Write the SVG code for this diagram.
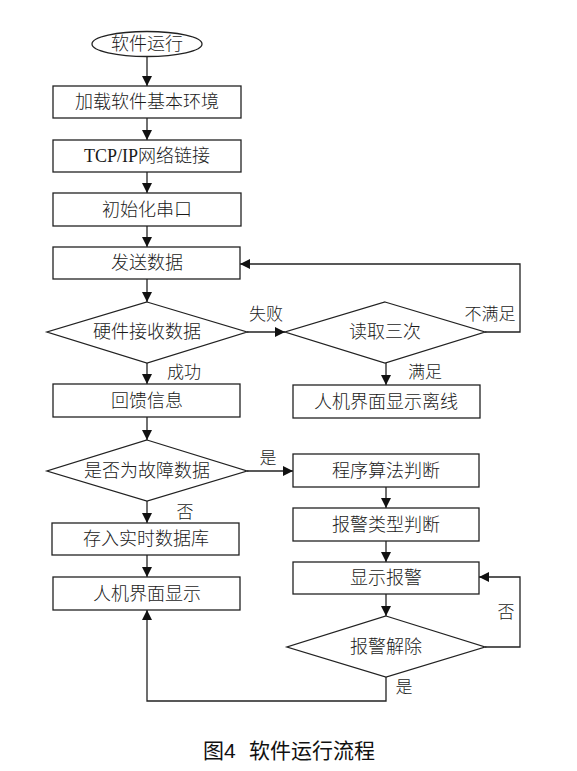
<svg xmlns="http://www.w3.org/2000/svg" width="577" height="771" viewBox="0 0 577 771">
<style>
.n{fill:#fff;stroke:#222;stroke-width:1.3}
.t{font-family:"Liberation Serif","Noto Sans CJK SC",serif;font-size:18px;font-weight:300;fill:#1a1a1a;text-anchor:middle;dominant-baseline:central}
.l{font-family:"Liberation Serif","Noto Sans CJK SC",serif;font-size:17px;font-weight:300;fill:#1a1a1a;text-anchor:middle;dominant-baseline:central}
.c{fill:none;stroke:#222;stroke-width:1.3}
.cap{font-family:"Liberation Sans","Noto Sans CJK SC",sans-serif;font-size:21px;font-weight:400;fill:#111;dominant-baseline:central}
</style>
<defs>
<marker id="a" viewBox="0 0 10 10" refX="10" refY="5" markerWidth="10" markerHeight="10" markerUnits="userSpaceOnUse" orient="auto">
<path d="M0,0 L10,5 L0,10 Z" fill="#111"/>
</marker>
</defs>
<rect width="577" height="771" fill="#fff"/>
<g id="connectors">
<path class="c" d="M147,56 V86" marker-end="url(#a)"/>
<path class="c" d="M147,118 V140" marker-end="url(#a)"/>
<path class="c" d="M147,172 V193" marker-end="url(#a)"/>
<path class="c" d="M147,226 V247" marker-end="url(#a)"/>
<path class="c" d="M147,279 V302" marker-end="url(#a)"/>
<path class="c" d="M247,332 H285" marker-end="url(#a)"/>
<path class="c" d="M485,332 H520 V264 H240" marker-end="url(#a)"/>
<path class="c" d="M386,363 V385" marker-end="url(#a)"/>
<path class="c" d="M147,363 V384" marker-end="url(#a)"/>
<path class="c" d="M147,417 V440" marker-end="url(#a)"/>
<path class="c" d="M247,471 H293" marker-end="url(#a)"/>
<path class="c" d="M147,501 V523" marker-end="url(#a)"/>
<path class="c" d="M147,555 V577" marker-end="url(#a)"/>
<path class="c" d="M386,487 V508" marker-end="url(#a)"/>
<path class="c" d="M386,541 V562" marker-end="url(#a)"/>
<path class="c" d="M386,594 V616" marker-end="url(#a)"/>
<path class="c" d="M485,647 H520 V577 H479" marker-end="url(#a)"/>
<path class="c" d="M386,677 V701 H147 V610" marker-end="url(#a)"/>
<text class="l" x="266" y="314">失败</text>
<text class="l" x="490" y="314">不满足</text>
<text class="l" x="184" y="372">成功</text>
<text class="l" x="425" y="372">满足</text>
<text class="l" x="268" y="458">是</text>
<text class="l" x="185" y="512">否</text>
<text class="l" x="506" y="612">否</text>
<text class="l" x="404" y="687">是</text>
</g>
<g id="start"><ellipse class="n" cx="147" cy="44" rx="55" ry="12.5"/><text class="t" x="147" y="44">软件运行</text></g>
<g id="env"><rect class="n" x="53" y="86" width="188" height="32"/><text class="t" x="147" y="102">加载软件基本环境</text></g>
<g id="tcp"><rect class="n" x="53" y="140" width="188" height="32"/><text class="t" x="147" y="156">TCP/IP网络链接</text></g>
<g id="serial"><rect class="n" x="53" y="193" width="188" height="33"/><text class="t" x="147" y="209.5">初始化串口</text></g>
<g id="send"><rect class="n" x="53" y="247" width="187" height="32"/><text class="t" x="147" y="263">发送数据</text></g>
<g id="recv"><polygon class="n" points="147,302 247,332 147,363 47,332"/><text class="t" x="147" y="332">硬件接收数据</text></g>
<g id="retry"><polygon class="n" points="385,302 485,332 385,363 285,332"/><text class="t" x="385" y="332">读取三次</text></g>
<g id="feedback"><rect class="n" x="53" y="384" width="187" height="33"/><text class="t" x="147" y="400.5">回馈信息</text></g>
<g id="offline"><rect class="n" x="293" y="385" width="187" height="33"/><text class="t" x="386" y="401.5">人机界面显示离线</text></g>
<g id="fault"><polygon class="n" points="147,440 247,471 147,501 47,471"/><text class="t" x="147" y="471">是否为故障数据</text></g>
<g id="algo"><rect class="n" x="293" y="454" width="186" height="33"/><text class="t" x="386" y="470.5">程序算法判断</text></g>
<g id="store"><rect class="n" x="52" y="523" width="187" height="32"/><text class="t" x="146" y="539">存入实时数据库</text></g>
<g id="alarmtype"><rect class="n" x="293" y="508" width="186" height="33"/><text class="t" x="386" y="524.5">报警类型判断</text></g>
<g id="showalarm"><rect class="n" x="293" y="562" width="186" height="32"/><text class="t" x="386" y="578">显示报警</text></g>
<g id="display"><rect class="n" x="53" y="577" width="187" height="33"/><text class="t" x="147" y="593.5">人机界面显示</text></g>
<g id="clear"><polygon class="n" points="386,616 485,647 386,677 287,647"/><text class="t" x="386" y="647">报警解除</text></g>
<text class="cap" x="203" y="750">图4</text>
<text class="cap" x="249" y="750">软件运行流程</text>
</svg>
